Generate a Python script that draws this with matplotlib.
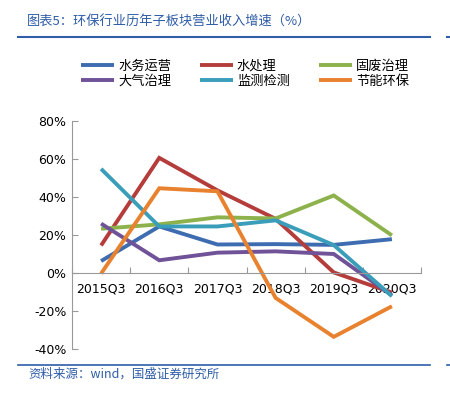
import numpy as np
import matplotlib
matplotlib.use('Agg')
import matplotlib.pyplot as plt
from matplotlib.lines import Line2D

plt.rcParams['font.family'] = ['DejaVu Sans', 'Noto Sans CJK SC']

# 数据
categories = ['2015Q3', '2016Q3', '2017Q3', '2018Q3', '2019Q3', '2020Q3']
water_ops = [6.3, 24.5, 15.0, 15.2, 14.8, 17.8]
water_treat = [14.5, 60.6, 43.5, 28.5, 0.3, -10.3]
solid_waste = [23.3, 25.6, 29.3, 28.7, 40.8, 19.8]
air = [26.0, 6.7, 10.7, 11.4, 10.0, -11.8]
monitor = [54.8, 24.5, 24.5, 27.7, 14.7, -12.2]
energy = [-0.3, 44.6, 43.0, -13.1, -33.6, -17.5]

names = ['水务运营', '水处理', '固废治理', '大气治理', '监测检测', '节能环保']
colors = ['#3E6CB0', '#B43D3B', '#8DB24C', '#6F5297', '#3A9EBA', '#E8822F']
series = [water_ops, water_treat, solid_waste, air, monitor, energy]

cjk = 'Noto Sans CJK SC'
title_blue = '#2F5DA8'

fig = plt.figure(figsize=(4.5, 3.99), dpi=100)
ax = fig.add_axes([72 / 450, 1 - 349 / 399, 349 / 450, 228 / 399])

x = np.arange(len(categories))
lines = []
for vals, c in zip(series, colors):
    ln, = ax.plot(x, vals, color=c, lw=2.8, solid_capstyle='butt', solid_joinstyle='miter')
    lines.append(ln)

ax.set_xlim(-0.5, len(categories) - 0.5)
ax.set_ylim(-40, 80)
ax.set_yticks(np.arange(-40, 81, 20))
ax.set_yticklabels([f'{v}%' for v in range(-40, 81, 20)], fontsize=9)

# x 轴放在 0 处
for s in ['top', 'right']:
    ax.spines[s].set_visible(False)
ax.spines['bottom'].set_position(('data', 0))
ax.spines['bottom'].set_color('#999999')
ax.spines['left'].set_color('#999999')
ax.set_xticks(np.arange(-0.5, len(categories)))
ax.set_xticklabels([])
ax.set_xticks(x, minor=True)
ax.set_xticklabels(categories, minor=True, fontsize=9)
ax.tick_params(axis='x', which='major', direction='in', length=4, color='#999999')
ax.tick_params(axis='x', which='minor', length=0, pad=7)
ax.tick_params(axis='y', direction='in', length=4, color='#999999', pad=4)
ax.set_zorder(1)

# 图例
order = [0, 3, 1, 4, 2, 5]
fig.legend([lines[i] for i in order], [names[i] for i in order], ncol=3,
           loc='center', bbox_to_anchor=(245 / 450, 1 - 74 / 399), frameon=False,
           prop={'family': cjk, 'size': 9.5}, handlelength=2.5, columnspacing=2.2,
           handletextpad=0.3, labelspacing=0.15)

# 标题和来源
fig.text(27 / 450, 1 - 22 / 399, '图表5：环保行业历年子板块营业收入增速（%）', color=title_blue,
         fontsize=9.5, family=cjk, va='center', ha='left', style='italic')
fig.add_artist(Line2D([18 / 450, 430 / 450], [1 - 37 / 399] * 2, color=title_blue, lw=1.5))
fig.add_artist(Line2D([447 / 450, 450 / 450], [1 - 37 / 399] * 2, color=title_blue, lw=1.5))
fig.add_artist(Line2D([18 / 450, 430 / 450], [1 - 365 / 399] * 2, color=title_blue, lw=1.2))
fig.add_artist(Line2D([447 / 450, 450 / 450], [1 - 365 / 399] * 2, color=title_blue, lw=1.2))
fig.text(28 / 450, 1 - 374 / 399, '资料来源：wind，国盛证券研究所', color=title_blue,
         fontsize=9, family=[cjk], va='center', ha='left', style='italic')

fig.savefig('out.png', dpi=100)
